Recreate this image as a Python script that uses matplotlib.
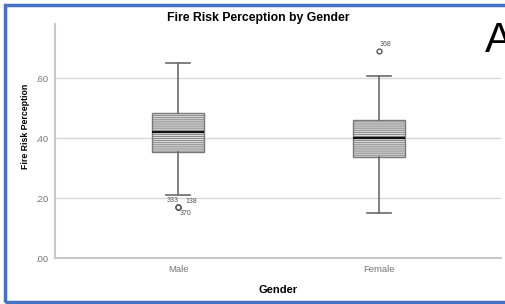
import matplotlib.pyplot as plt
from matplotlib.patches import Rectangle

plt.rcParams['font.family'] = ['Liberation Sans', 'DejaVu Sans']

groups = ["Male", "Female"]
whislo = [0.209, 0.149]
q1 = [0.354, 0.336]
med = [0.419, 0.400]
q3 = [0.482, 0.460]
whishi = [0.649, 0.607]
fliers = [[0.169, 0.169, 0.169], [0.691]]
flier_ids = [["333", "138", "370"], ["368"]]
yticks = [0.0, 0.2, 0.4, 0.6]
yticklabels = [".00", ".20", ".40", ".60"]

fig = plt.figure(figsize=(5.06, 3.04), dpi=100)
ax = fig.add_axes([0.1087, 0.1513, 0.8814, 0.7697])

stats = []
for i in range(len(groups)):
    stats.append(dict(label=groups[i], whislo=whislo[i], q1=q1[i], med=med[i],
                      q3=q3[i], whishi=whishi[i], fliers=fliers[i]))

plt.rcParams['hatch.color'] = '#7a7a7a'
plt.rcParams['hatch.linewidth'] = 0.6
res = ax.bxp(stats, positions=[0, 1], widths=0.254, patch_artist=True,
             capwidths=0.124,
             boxprops=dict(facecolor='#dcdcdc', edgecolor='#7a7a7a', linewidth=1.0, hatch='--------'),
             medianprops=dict(color='#111111', linewidth=1.6),
             whiskerprops=dict(color='#6a6a6a', linewidth=1.2),
             capprops=dict(color='#6a6a6a', linewidth=1.2),
             flierprops=dict(marker='o', markersize=3.5, markerfacecolor='white',
                             markeredgecolor='#555555', markeredgewidth=1.0))

# outlier case labels
offsets = {"333": (-0.026, 0.024), "138": (0.068, 0.018), "370": (0.038, -0.019), "368": (0.035, 0.022)}
for i in range(len(groups)):
    for v, lab in zip(fliers[i], flier_ids[i]):
        dx, dy = offsets[lab]
        ax.text(i + dx, v + dy, lab, fontsize=5, color='#555555', ha='center', va='center')

ax.set_xlim(-0.612, 1.607)
ax.set_ylim(0, 0.78)
ax.set_yticks(yticks)
ax.set_yticklabels(yticklabels)
ax.grid(axis='y', color='#d8d8d8', linewidth=1.0)
ax.set_axisbelow(True)
for s in ['top', 'right']:
    ax.spines[s].set_visible(False)
for s in ['left', 'bottom']:
    ax.spines[s].set_color('#c8c8c8')
    ax.spines[s].set_linewidth(1.5)
ax.tick_params(length=0, labelsize=6.8, colors='#777777', pad=5)

fig.text(258 / 506, 1 - 18 / 304, "Fire Risk Perception by Gender", fontsize=8.8,
         fontweight='bold', ha='center', va='center')
ax.set_ylabel("Fire Risk Perception", fontsize=6.3, fontweight='bold')
ax.yaxis.set_label_coords(-0.056, (258 - 126.5) / 234)
ax.set_xlabel("Gender", fontsize=8, fontweight='bold', labelpad=8)

fig.text(0.958, 0.80, "A", fontsize=30, color='black', ha='left', va='bottom')

fig.patches.append(Rectangle((5.5 / 506, 2.5 / 304), 520 / 506, 297 / 304,
                             transform=fig.transFigure, fill=False,
                             edgecolor='#4472C4', linewidth=2.5))

fig.savefig("out.png", dpi=100)
